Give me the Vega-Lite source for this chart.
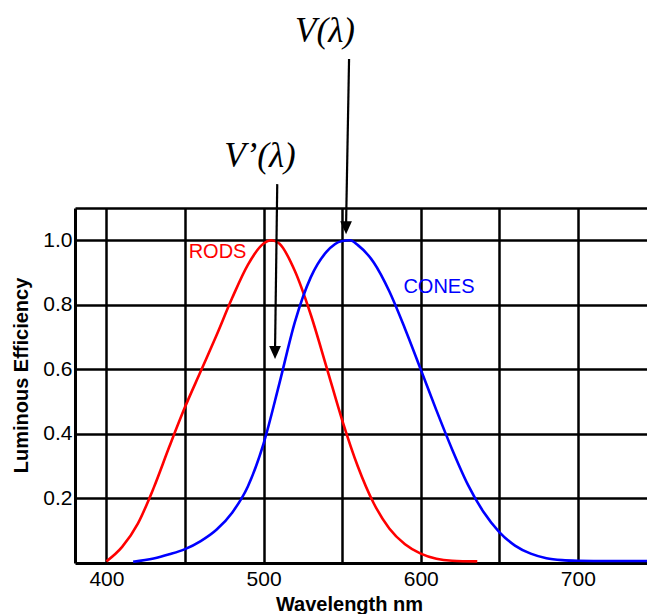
{
  "$schema": "https://vega.github.io/schema/vega-lite/v6.json",
  "autosize": "none",
  "width": 572,
  "height": 355,
  "padding": {"left": 75, "top": 208, "right": 0, "bottom": 51},
  "background": "white",
  "config": {
    "view": {"stroke": null},
    "font": "Liberation Sans",
    "axis": {
      "labelFont": "Liberation Sans",
      "labelFontSize": 21,
      "labelColor": "black",
      "titleFont": "Liberation Sans",
      "titleFontSize": 20,
      "titleFontWeight": "bold",
      "titleColor": "black",
      "gridColor": "black",
      "gridWidth": 2.5,
      "gridOpacity": 1,
      "domainColor": "black",
      "domainWidth": 3,
      "ticks": false
    }
  },
  "datasets": {
    "curves": [
      {"nm": 400, "eff": 0.005, "type": "RODS"},
      {"nm": 410, "eff": 0.05, "type": "RODS"},
      {"nm": 420, "eff": 0.122, "type": "RODS"},
      {"nm": 430, "eff": 0.232, "type": "RODS"},
      {"nm": 440, "eff": 0.36, "type": "RODS"},
      {"nm": 450, "eff": 0.483, "type": "RODS"},
      {"nm": 460, "eff": 0.594, "type": "RODS"},
      {"nm": 470, "eff": 0.705, "type": "RODS"},
      {"nm": 480, "eff": 0.821, "type": "RODS"},
      {"nm": 490, "eff": 0.924, "type": "RODS"},
      {"nm": 500, "eff": 0.99, "type": "RODS"},
      {"nm": 505, "eff": 1.0, "type": "RODS"},
      {"nm": 510, "eff": 0.99, "type": "RODS"},
      {"nm": 520, "eff": 0.904, "type": "RODS"},
      {"nm": 530, "eff": 0.77, "type": "RODS"},
      {"nm": 540, "eff": 0.608, "type": "RODS"},
      {"nm": 550, "eff": 0.443, "type": "RODS"},
      {"nm": 560, "eff": 0.299, "type": "RODS"},
      {"nm": 570, "eff": 0.186, "type": "RODS"},
      {"nm": 580, "eff": 0.107, "type": "RODS"},
      {"nm": 590, "eff": 0.058, "type": "RODS"},
      {"nm": 600, "eff": 0.029, "type": "RODS"},
      {"nm": 610, "eff": 0.013, "type": "RODS"},
      {"nm": 620, "eff": 0.007, "type": "RODS"},
      {"nm": 636, "eff": 0.005, "type": "RODS"},
      {"nm": 417, "eff": 0.004, "type": "CONES"},
      {"nm": 430, "eff": 0.014, "type": "CONES"},
      {"nm": 440, "eff": 0.027, "type": "CONES"},
      {"nm": 450, "eff": 0.043, "type": "CONES"},
      {"nm": 460, "eff": 0.068, "type": "CONES"},
      {"nm": 470, "eff": 0.103, "type": "CONES"},
      {"nm": 480, "eff": 0.156, "type": "CONES"},
      {"nm": 490, "eff": 0.237, "type": "CONES"},
      {"nm": 500, "eff": 0.37, "type": "CONES"},
      {"nm": 510, "eff": 0.555, "type": "CONES"},
      {"nm": 520, "eff": 0.748, "type": "CONES"},
      {"nm": 530, "eff": 0.885, "type": "CONES"},
      {"nm": 540, "eff": 0.964, "type": "CONES"},
      {"nm": 550, "eff": 0.998, "type": "CONES"},
      {"nm": 555, "eff": 1.0, "type": "CONES"},
      {"nm": 560, "eff": 0.985, "type": "CONES"},
      {"nm": 570, "eff": 0.932, "type": "CONES"},
      {"nm": 580, "eff": 0.842, "type": "CONES"},
      {"nm": 590, "eff": 0.726, "type": "CONES"},
      {"nm": 600, "eff": 0.6, "type": "CONES"},
      {"nm": 610, "eff": 0.473, "type": "CONES"},
      {"nm": 620, "eff": 0.352, "type": "CONES"},
      {"nm": 630, "eff": 0.243, "type": "CONES"},
      {"nm": 640, "eff": 0.158, "type": "CONES"},
      {"nm": 650, "eff": 0.096, "type": "CONES"},
      {"nm": 660, "eff": 0.054, "type": "CONES"},
      {"nm": 670, "eff": 0.029, "type": "CONES"},
      {"nm": 680, "eff": 0.015, "type": "CONES"},
      {"nm": 690, "eff": 0.009, "type": "CONES"},
      {"nm": 700, "eff": 0.007, "type": "CONES"},
      {"nm": 720, "eff": 0.006, "type": "CONES"},
      {"nm": 744, "eff": 0.006, "type": "CONES"}
    ],
    "arrows": [
      {"nm": 508.7, "eff": 1.174, "nm2": 507.3, "eff2": 0.66},
      {"nm": 554.4, "eff": 1.562, "nm2": 552.5, "eff2": 1.045}
    ],
    "heads": [
      {"nm": 507.3, "eff": 0.652},
      {"nm": 552.5, "eff": 1.0386}
    ],
    "names": [
      {"nm": 470.7, "eff": 0.964, "label": "RODS", "type": "RODS"},
      {"nm": 611.6, "eff": 0.855, "label": "CONES", "type": "CONES"}
    ],
    "symbols": [
      {"nm": 539.1, "eff": 1.614, "label": "V(λ)"},
      {"nm": 497.7, "eff": 1.228, "label": "V’(λ)"}
    ]
  },
  "layer": [
    {
      "data": {"name": "curves"},
      "mark": {"type": "line", "strokeWidth": 2.6, "interpolate": "monotone", "clip": true},
      "encoding": {
        "x": {
          "field": "nm", "type": "quantitative", "title": "Wavelength nm",
          "scale": {"domain": [380, 744], "nice": false, "zero": false},
          "axis": {
            "values": [400, 450, 500, 550, 600, 650, 700],
            "labelExpr": "datum.value % 100 == 0 ? datum.label : ''",
            "labelPadding": 5,
            "titleX": 274, "titleY": 47, "titleBaseline": "alphabetic", "titleAnchor": "start", "titleAlign": "center"
          }
        },
        "y": {
          "field": "eff", "type": "quantitative", "title": "Luminous Efficiency",
          "scale": {"domain": [0, 1.1], "nice": false},
          "axis": {
            "values": [0.2, 0.4, 0.6, 0.8, 1.0, 1.1],
            "labelExpr": "datum.value > 1.05 ? '' : format(datum.value, '.1f')",
            "labelPadding": 3,
            "titleAngle": -90, "titleX": -54, "titleY": 167, "titleAlign": "center", "titleBaseline": "middle"
          }
        },
        "color": {"field": "type", "type": "nominal", "scale": {"domain": ["RODS", "CONES"], "range": ["#ff0000", "#0000ff"]}, "legend": null},
        "detail": {"field": "type"}
      }
    },
    {
      "data": {"name": "arrows"},
      "mark": {"type": "rule", "color": "black", "strokeWidth": 2.2},
      "encoding": {
        "x": {"field": "nm", "type": "quantitative", "title": "Wavelength nm"},
        "x2": {"field": "nm2"},
        "y": {"field": "eff", "type": "quantitative", "title": "Luminous Efficiency"},
        "y2": {"field": "eff2"}
      }
    },
    {
      "data": {"name": "heads"},
      "mark": {"type": "point", "shape": "M-0.9,-1L0.9,-1L0,1Z", "filled": true, "color": "black", "opacity": 1, "size": 169},
      "encoding": {
        "x": {"field": "nm", "type": "quantitative", "title": "Wavelength nm"},
        "y": {"field": "eff", "type": "quantitative", "title": "Luminous Efficiency"}
      }
    },
    {
      "data": {"name": "names"},
      "mark": {"type": "text", "fontSize": 20, "font": "Liberation Sans", "align": "center", "baseline": "middle"},
      "encoding": {
        "x": {"field": "nm", "type": "quantitative", "title": "Wavelength nm"},
        "y": {"field": "eff", "type": "quantitative", "title": "Luminous Efficiency"},
        "text": {"field": "label"},
        "color": {"field": "type", "type": "nominal", "legend": null}
      }
    },
    {
      "data": {"name": "symbols"},
      "mark": {"type": "text", "fontSize": 35, "font": "Liberation Serif", "fontStyle": "italic", "align": "center", "baseline": "alphabetic", "color": "black"},
      "encoding": {
        "x": {"field": "nm", "type": "quantitative", "title": "Wavelength nm"},
        "y": {"field": "eff", "type": "quantitative", "title": "Luminous Efficiency"},
        "text": {"field": "label"}
      }
    }
  ]
}
